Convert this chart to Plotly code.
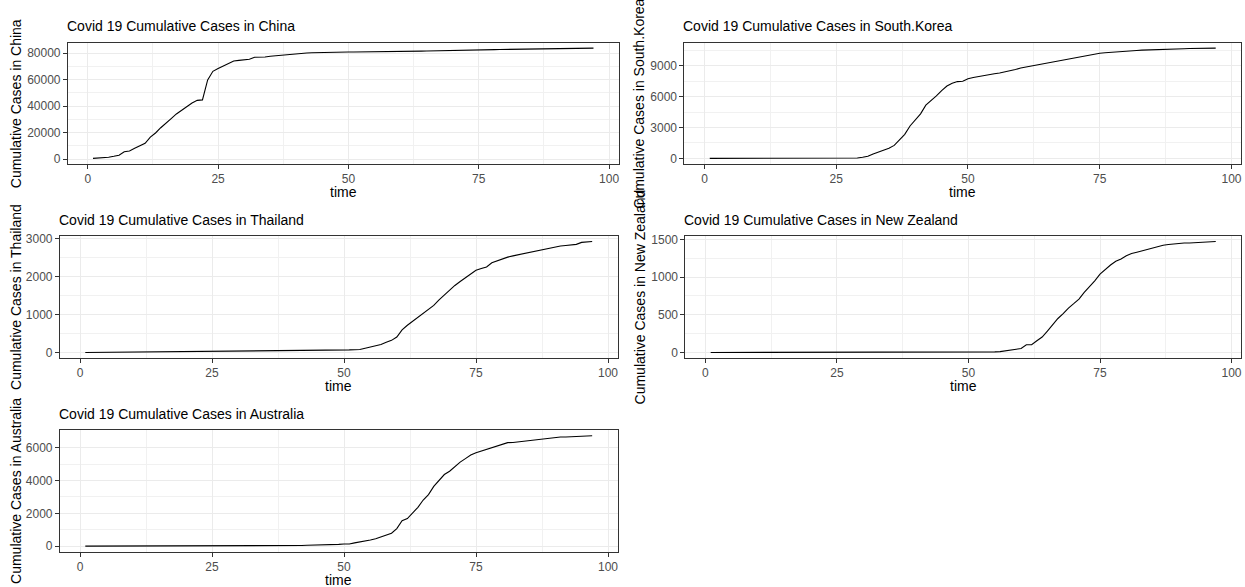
import plotly.graph_objects as go

# ---- data (day index 1..97, cumulative confirmed cases) ----
days = list(range(1, 98))

china = [548, 643, 920, 1406, 2075, 2877, 5509, 6087, 8141, 9802,
         11891, 16630, 19716, 23707, 27440, 30587, 34110, 36814, 39829, 42354,
         44386, 44759, 59895, 66358, 68413, 70513, 72434, 74211, 74619, 75077,
         75550, 77001, 77022, 77241, 77754, 78166, 78600, 78928, 79356,
         79932, 80136, 80261, 80386, 80537, 80690, 80770, 80823, 80860, 80887,
         80921, 80932, 80945, 80977, 81003, 81033, 81058, 81102, 81156, 81250,
         81305, 81435, 81498, 81591, 81661, 81782, 81897, 81999, 82122, 82198, 82279,
         82361, 82432, 82511, 82543, 82602, 82665, 82718, 82809, 82883, 82941,
         83014, 83134, 83213, 83306, 83356, 83403, 83760, 83787, 83805, 83817,
         83853, 83868, 83884, 83899, 83909, 83912, 83918]

south_korea = [1, 1, 2, 2, 3, 4, 4, 4, 4, 11,
               12, 15, 15, 16, 19, 23, 24, 24, 25, 27,
               28, 28, 28, 28, 28, 29, 30, 31, 31, 104,
               204, 433, 602, 833, 977, 1261, 1766, 2337, 3150,
               3736, 4335, 5186, 5621, 6088, 6593, 7041, 7314, 7478, 7513,
               7755, 7869, 7979, 8086, 8162, 8236, 8320, 8413, 8565, 8652,
               8799, 8897, 8961, 9037, 9137, 9241, 9332, 9478, 9583, 9661, 9786,
               9887, 9976, 10062, 10156, 10237, 10284, 10331, 10384, 10423, 10450,
               10480, 10512, 10537, 10564, 10591, 10613, 10635, 10653, 10661, 10674,
               10683, 10694, 10702, 10708, 10718, 10728, 10738]

thailand = [2, 3, 5, 7, 8, 8, 14, 14, 14, 19,
            19, 19, 19, 25, 25, 25, 25, 32, 32, 32,
            33, 33, 33, 33, 33, 34, 35, 35, 35, 35,
            35, 35, 35, 35, 37, 40, 40, 41, 42,
            42, 43, 43, 43, 47, 48, 50, 50, 50, 53,
            59, 70, 75, 82, 114, 147, 177, 212, 272, 322,
            411, 599, 721, 827, 934, 1045, 1136, 1245, 1388, 1524, 1651,
            1771, 1875, 1978, 2067, 2169, 2220, 2258, 2369, 2423, 2473,
            2518, 2551, 2579, 2613, 2643, 2672, 2700, 2733, 2765, 2792,
            2811, 2826, 2839, 2854, 2907, 2922, 2931]

new_zealand = [0, 0, 0, 0, 0, 0, 0, 0, 0, 0,
               0, 0, 0, 0, 0, 0, 0, 0, 0, 0,
               0, 0, 0, 0, 0, 0, 0, 0, 0, 0,
               0, 0, 0, 0, 0, 0, 0, 1, 1,
               1, 1, 2, 3, 3, 4, 5, 5, 5, 5,
               5, 5, 5, 6, 8, 8, 12, 20, 28, 39,
               52, 102, 102, 155, 205, 283, 368, 451, 514, 589, 647,
               708, 797, 868, 950, 1039, 1106, 1160, 1210, 1239, 1283,
               1312, 1330, 1349, 1366, 1386, 1409, 1422, 1431, 1440, 1445,
               1451, 1451, 1456, 1461, 1466, 1469, 1472]

australia = [0, 0, 0, 0, 4, 5, 5, 6, 9, 9,
             12, 12, 12, 13, 13, 14, 15, 15, 15, 15,
             15, 15, 15, 15, 15, 15, 15, 15, 15, 15,
             19, 22, 22, 22, 22, 22, 23, 23, 25,
             27, 30, 39, 52, 55, 60, 63, 76, 91, 107,
             128, 128, 200, 250, 297, 377, 452, 568, 681, 791,
             1071, 1549, 1682, 2044, 2364, 2810, 3143, 3640, 3984, 4361, 4559,
             4862, 5116, 5330, 5550, 5687, 5797, 5895, 6010, 6108, 6215,
             6303, 6315, 6351, 6415, 6440, 6462, 6522, 6565, 6606, 6619,
             6645, 6652, 6662, 6677, 6694, 6714, 6720]

countries = ["China", "South.Korea", "Thailand", "New Zealand", "Australia"]
series = [china, south_korea, thailand, new_zealand, australia]
x_ticks = [0, 25, 50, 75, 100]
y_steps = [20000, 3000, 1000, 500, 2000]

# ---- layout geometry (pixels) ----
W, H = 1245, 587
# (x0, x1, ytop, ybottom, ylabel_x, title_y)
boxes = [
    (68, 619, 39, 161.5, 16, 22),
    (685, 1242, 39, 161.5, 640, 22),
    (60, 618, 234.3, 357.7, 16, 218),
    (686, 1242, 234.3, 357.7, 640, 218),
    (60, 618, 430.7, 553.3, 16, 414),
]

FONT = "Liberation Sans, Arial, sans-serif"
fig = go.Figure()
annotations = []
layout = {}

for i, (name, vals, step, box) in enumerate(zip(countries, series, y_steps, boxes)):
    x0, x1, yt, yb, ylx, ty = box
    xa = "x" if i == 0 else f"x{i+1}"
    ya = "y" if i == 0 else f"y{i+1}"
    fig.add_trace(go.Scatter(x=days, y=vals, mode="lines", xaxis=xa, yaxis=ya,
                             line=dict(color="black", width=1.1), showlegend=False,
                             hoverinfo="skip"))
    xmin, xmax = min(days), max(days)
    ymin, ymax = min(vals), max(vals)
    xr = [xmin - 0.05 * (xmax - xmin), xmax + 0.05 * (xmax - xmin)]
    yr = [ymin - 0.05 * (ymax - ymin), ymax + 0.05 * (ymax - ymin)]
    common = dict(showline=True, mirror=True, linecolor="#333333", linewidth=1,
                  showgrid=True, gridcolor="#EBEBEB", gridwidth=1, zeroline=False,
                  ticks="outside", ticklen=4, tickwidth=1, tickcolor="#333333",
                  tickfont=dict(family=FONT, size=12, color="#4D4D4D"))
    xname = "xaxis" if i == 0 else f"xaxis{i+1}"
    yname = "yaxis" if i == 0 else f"yaxis{i+1}"
    layout[xname] = dict(common, domain=[x0 / W, x1 / W], range=xr, anchor=ya,
                         tickmode="array", tickvals=x_ticks,
                         minor=dict(showgrid=True, gridcolor="#F1F1F1", gridwidth=1,
                                    tickvals=[12.5, 37.5, 62.5, 87.5]))
    layout[yname] = dict(common, domain=[1 - yb / H, 1 - yt / H], range=yr, anchor=xa,
                         tick0=0, dtick=step, tickformat="d",
                         minor=dict(showgrid=True, gridcolor="#F1F1F1", gridwidth=1,
                                    tick0=step / 2, dtick=step))
    # title
    annotations.append(dict(text=f"Covid 19 Cumulative Cases in {name}", xref="paper", yref="paper",
                            x=x0 / W, y=1 - ty / H, xanchor="left", yanchor="middle", xshift=-3,
                            showarrow=False, font=dict(family=FONT, size=14, color="black")))
    # x axis title
    annotations.append(dict(text="time", xref="paper", yref="paper",
                            x=(x0 + x1) / 2 / W, y=1 - (yb + 28.5) / H,
                            xanchor="center", yanchor="middle", showarrow=False,
                            font=dict(family=FONT, size=14, color="black")))
    # y axis title
    annotations.append(dict(text=f"Cumulative Cases in {name}", xref="paper", yref="paper",
                            x=ylx / W, y=1 - (yt + yb) / 2 / H, textangle=-90,
                            xanchor="center", yanchor="middle", showarrow=False,
                            font=dict(family=FONT, size=14, color="black")))

fig.update_layout(**layout)
fig.update_layout(width=W, height=H, margin=dict(l=0, r=0, t=0, b=0),
                  paper_bgcolor="white", plot_bgcolor="white",
                  annotations=annotations, showlegend=False, hovermode=False)
fig.write_html("out.html", config={"displayModeBar": False, "staticPlot": True},
               post_script="document.body.style.margin='0';document.body.style.overflow='hidden';")
